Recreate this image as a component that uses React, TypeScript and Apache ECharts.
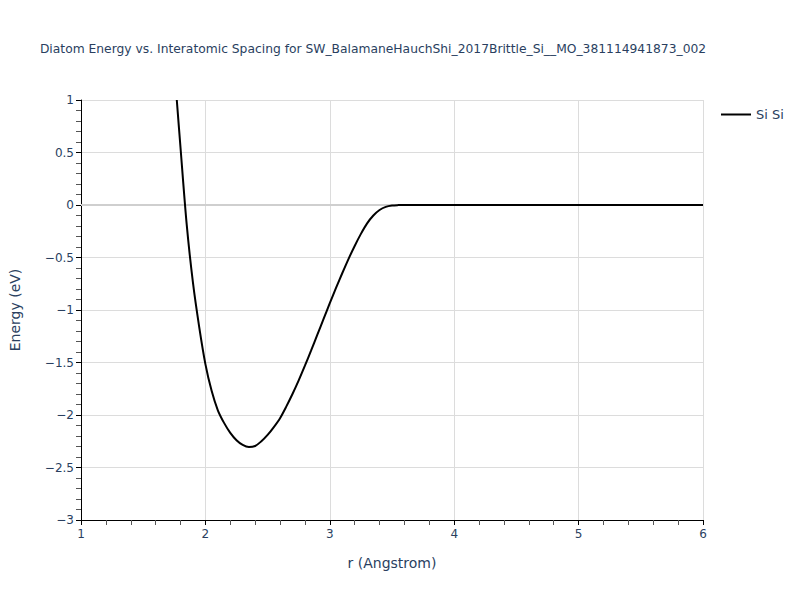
import React, { useEffect, useRef } from "react";
import * as echarts from "echarts";

const titleText =
  "Diatom Energy vs. Interatomic Spacing for SW_BalamaneHauchShi_2017Brittle_Si__MO_381114941873_002";
const seriesName = "Si Si";
const xAxisName = "r (Angstrom)";
const yAxisName = "Energy (eV)";

const rValues = [
  1.77, 1.8, 1.85, 1.9, 1.95, 2.0, 2.05, 2.1, 2.15, 2.2, 2.25, 2.3, 2.35, 2.4, 2.45, 2.5, 2.55, 2.6,
  2.65, 2.7, 2.75, 2.8, 2.85, 2.9, 2.95, 3.0, 3.05, 3.1, 3.15, 3.2, 3.25, 3.3, 3.35, 3.4, 3.45, 3.5,
  3.55, 3.6, 3.8, 4.0, 4.5, 5.0, 5.5, 6.0,
];
const energyValues = [
  1.0, 0.545, -0.19, -0.74, -1.16, -1.515, -1.77, -1.955, -2.075, -2.17, -2.24, -2.285, -2.305,
  -2.295, -2.25, -2.19, -2.115, -2.03, -1.92, -1.8, -1.67, -1.53, -1.385, -1.235, -1.085, -0.935,
  -0.79, -0.65, -0.515, -0.39, -0.275, -0.175, -0.1, -0.048, -0.018, -0.005, -0.001, 0, 0, 0, 0, 0,
  0, 0,
];

const FONT = "'DejaVu Sans', Verdana, sans-serif";
const TXT = "#2a3f5f";

const fmt = (v: number) => String(v).replace("-", "\u2212");

export default function App() {
  const ref = useRef<HTMLDivElement>(null);
  useEffect(() => {
    if (!ref.current) return;
    const chart = echarts.init(ref.current, undefined, { renderer: "svg" });
    const data = rValues.map((r, i) => [r, energyValues[i]]);
    chart.setOption({
      animation: false,
      backgroundColor: "#fff",
      textStyle: { fontFamily: FONT },
      title: {
        text: titleText,
        left: 368,
        top: 38,
        textAlign: "center",
        textStyle: { fontFamily: FONT, fontSize: 12.3, fontWeight: "normal", color: TXT },
      },
      legend: {
        left: 716,
        top: 103,
        itemWidth: 30,
        itemHeight: 2,
        itemGap: 5,
        data: [{ name: seriesName, icon: "rect" }],
        textStyle: { fontFamily: FONT, fontSize: 13, color: TXT, padding: [0, 0, 0, 0] },
      },
      grid: { left: 80, right: 97, top: 100, bottom: 80, containLabel: false },
      xAxis: {
        type: "value",
        min: 1,
        max: 6,
        interval: 1,
        name: xAxisName,
        nameLocation: "middle",
        nameGap: 36,
        nameTextStyle: { fontFamily: FONT, fontSize: 14, color: TXT },
        axisLine: { show: true, onZero: false, lineStyle: { color: "#000", width: 1 } },
        axisTick: { show: true, length: 5, lineStyle: { color: "#000" } },
        minorTick: { show: true, splitNumber: 5, length: 5, lineStyle: { color: "#555" } },
        axisLabel: { fontFamily: FONT, fontSize: 12, color: TXT, margin: 8, formatter: fmt },
        splitLine: { show: true, lineStyle: { color: "#dcdcdc", width: 1 } },
      },
      yAxis: {
        type: "value",
        min: -3,
        max: 1,
        interval: 0.5,
        name: yAxisName,
        nameLocation: "middle",
        nameGap: 59,
        nameRotate: 90,
        nameTextStyle: { fontFamily: FONT, fontSize: 14, color: TXT },
        axisLine: { show: true, onZero: false, lineStyle: { color: "#000", width: 1 } },
        axisTick: { show: true, length: 5, lineStyle: { color: "#000" } },
        minorTick: { show: true, splitNumber: 5, length: 5, lineStyle: { color: "#555" } },
        axisLabel: { fontFamily: FONT, fontSize: 12, color: TXT, margin: 7, formatter: fmt },
        splitLine: { show: true, lineStyle: { color: "#dcdcdc", width: 1 } },
      },
      series: [
        {
          name: seriesName,
          type: "line",
          data,
          symbol: "none",
          smooth: 0.3,
          lineStyle: { color: "#000", width: 2 },
          itemStyle: { color: "#000" },
          markLine: {
            silent: true,
            symbol: "none",
            label: { show: false },
            lineStyle: { color: "#cfcfcf", width: 2, type: "solid" },
            data: [{ yAxis: 0 }],
            z: 1,
          },
          z: 3,
        },
      ],
    });
    return () => chart.dispose();
  }, []);
  return (
    <div
      ref={ref}
      style={{ position: "absolute", left: 0, top: 0, width: 800, height: 600 }}
    />
  );
}
